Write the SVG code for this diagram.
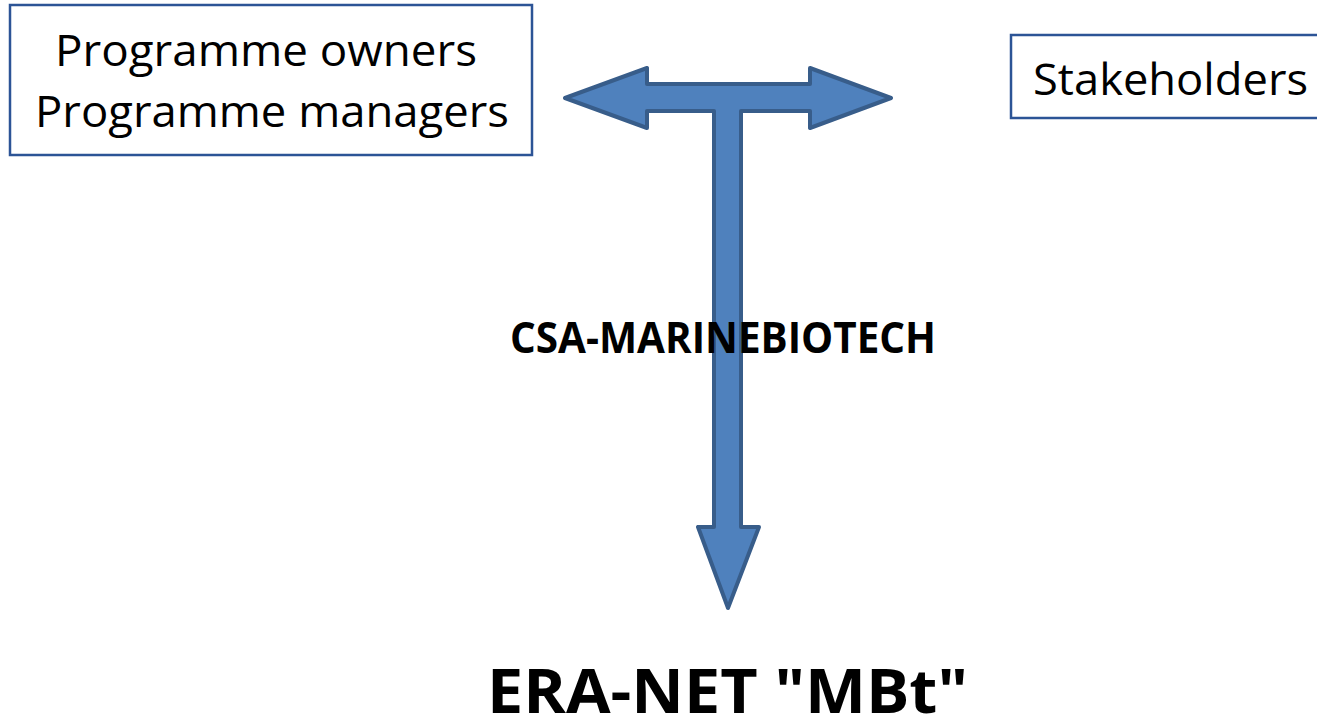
<svg xmlns="http://www.w3.org/2000/svg" width="1317" height="724" viewBox="0 0 1317 724">
<style>
.box{fill:#fff;stroke:#2c5496;stroke-width:2.5}
.t{font-family:"Open Sans","Liberation Sans",sans-serif;fill:#000}
.arrow{fill:#4f81bd;stroke:#385d8a;stroke-width:4;stroke-linejoin:round}
</style>
<rect width="1317" height="724" fill="#fff"/>
<g id="connectors">
<polygon class="arrow" points="565,98 647,68 647,84 810,84 810,68 891,98 810,128 810,111 741,111 741,527 759,527 728,608 698,527 714,527 714,111 647,111 647,128"/>
</g>
<g id="node-programme">
<rect class="box" x="10" y="5" width="522" height="150"/>
<text class="t" x="266" y="66" font-size="44" text-anchor="middle" textLength="422" lengthAdjust="spacingAndGlyphs">Programme owners</text>
<text class="t" x="272" y="127" font-size="44" text-anchor="middle" textLength="474" lengthAdjust="spacingAndGlyphs">Programme managers</text>
</g>
<g id="node-stakeholders">
<rect class="box" x="1011" y="35" width="320" height="83"/>
<text class="t" x="1033" y="95" font-size="44" textLength="275" lengthAdjust="spacingAndGlyphs">Stakeholders</text>
</g>
<g id="label-csa">
<text class="t" x="510" y="353" font-size="43" font-weight="bold" textLength="426" lengthAdjust="spacingAndGlyphs">CSA-MARINEBIOTECH</text>
</g>
<g id="node-eranet">
<text class="t" x="487" y="713" font-size="60" font-weight="bold" textLength="481" lengthAdjust="spacingAndGlyphs">ERA-NET "MBt"</text>
</g>
</svg>
